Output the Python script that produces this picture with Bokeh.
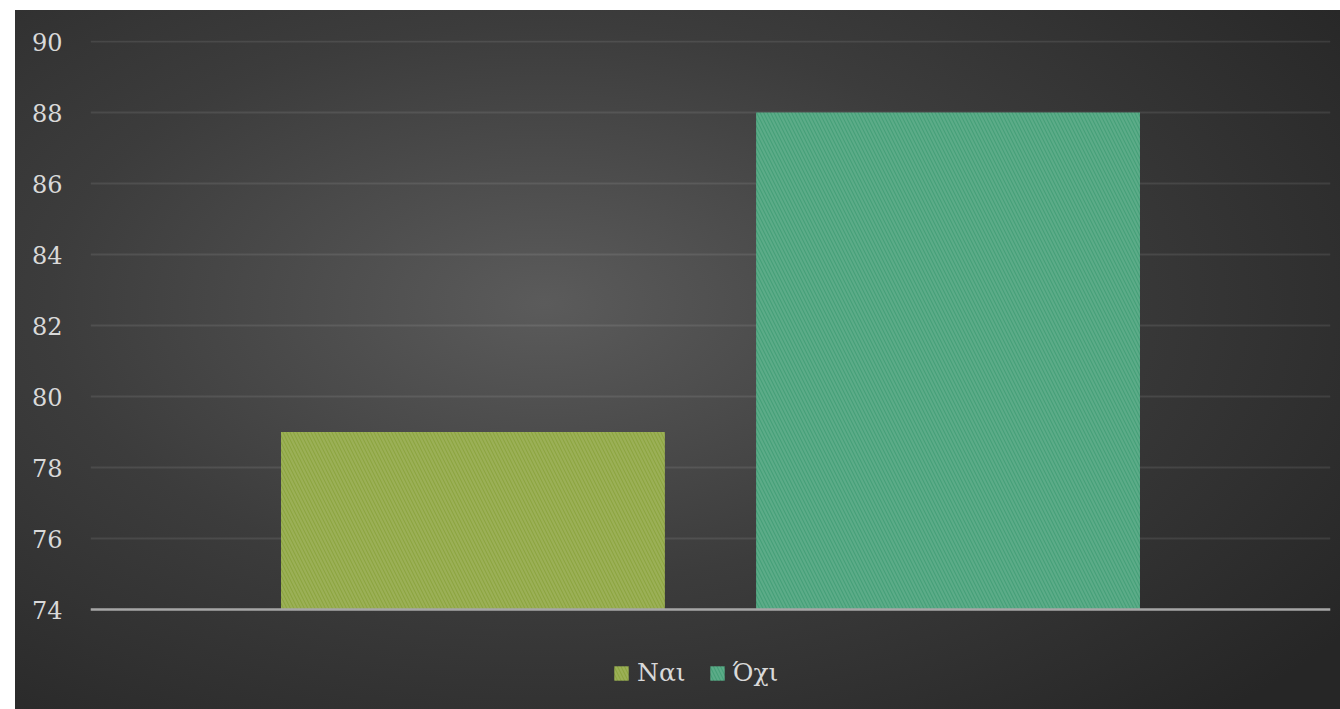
from bokeh.plotting import figure
from bokeh.models import (ColumnDataSource, FactorRange, Range1d, Legend, LegendItem, Spacer, Span)
from bokeh.layouts import row, column
from bokeh.embed import file_html
from bokeh.resources import INLINE

# ---- data ----
categories = ["Ναι", "Όχι"]
values = [79, 88]
colors = ["#8da540", "#45a078"]
y_ticks = [74, 76, 78, 80, 82, 84, 86, 88, 90]

FONT = "DejaVu Serif"

src = ColumnDataSource(dict(cat=categories, val=values, color=colors))

PX_PER_UNIT = 35.5          # layout: vertical scale
BOTTOM_PAD = 100 / PX_PER_UNIT   # room below the base line for the legend

p = figure(
    width=1325, height=699,
    x_range=FactorRange(factors=categories, range_padding=0.305, range_padding_units="absolute"),
    y_range=Range1d(y_ticks[0] - BOTTOM_PAD, y_ticks[-1] + 0.03),
    output_backend="svg", toolbar_location=None,
    min_border_left=75, min_border_right=10, min_border_top=30, min_border_bottom=0,
)
p.styles = {"background": "radial-gradient(ellipse 75% 80% at 40% 42%, #5b5b5b 0%, #3c3c3c 50%, #262626 100%)"}
p.border_fill_color = None
p.background_fill_color = None
p.outline_line_color = None

r = p.vbar(x="cat", top="val", bottom=y_ticks[0], width=0.808, source=src,
           fill_color="color", line_color=None,
           hatch_pattern="\\", hatch_color="white", hatch_alpha=0.12,
           hatch_scale=7, hatch_weight=2)

# base line
p.add_layout(Span(location=y_ticks[0], dimension="width", line_color="#a6a6a6", line_width=2.5))

# y axis
p.yaxis.ticker = y_ticks
p.yaxis.axis_line_color = None
p.yaxis.major_tick_line_color = None
p.yaxis.minor_tick_line_color = None
p.yaxis.major_tick_out = 0
p.yaxis.major_label_standoff = 28
p.yaxis.major_label_text_font = FONT
p.yaxis.major_label_text_font_size = "24px"
p.yaxis.major_label_text_color = "#d9d9d9"

p.xaxis.visible = False

p.xgrid.grid_line_color = None
p.ygrid.grid_line_color = "white"
p.ygrid.grid_line_alpha = 0.09
p.ygrid.grid_line_width = 2

# legend: one item per bar
items = [LegendItem(label=c, renderers=[r], index=i) for i, c in enumerate(categories)]
legend = Legend(items=items, orientation="horizontal", location=(522, 22),
                glyph_width=18, glyph_height=18, label_standoff=7, spacing=22,
                padding=0, margin=0, border_line_color=None, background_fill_color=None,
                background_fill_alpha=0, label_text_font=FONT, label_text_font_size="25px",
                label_text_color="#d9d9d9")
p.add_layout(legend, "center")

layout = row(Spacer(width=15, height=709), column(Spacer(width=1325, height=10), p))

open("out.html", "w").write(file_html(layout, INLINE))
